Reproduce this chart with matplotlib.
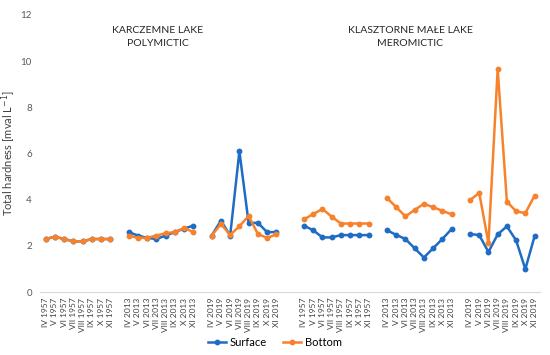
import numpy as np
import matplotlib
matplotlib.use('Agg')
import matplotlib.pyplot as plt

plt.rcParams['font.family'] = ['Lato', 'DejaVu Sans']

months = ["IV", "V", "VI", "VII", "VIII", "IX", "X", "XI"]
years = ["1957", "2013", "2019"]

# Karczemne Lake (polymictic)
k_surface = {
    "1957": [2.3, 2.4, 2.3, 2.2, 2.2, 2.3, 2.3, 2.3],
    "2013": [2.6, 2.45, 2.35, 2.3, 2.45, 2.6, 2.75, 2.88],
    "2019": [2.45, 3.1, 2.45, 6.1, 3.0, 3.0, 2.6, 2.6],
}
k_bottom = {
    "1957": [2.3, 2.4, 2.3, 2.2, 2.2, 2.3, 2.3, 2.3],
    "2013": [2.45, 2.35, 2.35, 2.45, 2.55, 2.6, 2.78, 2.6],
    "2019": [2.45, 2.95, 2.48, 2.85, 3.3, 2.52, 2.35, 2.5],
}
# Klasztorne Małe Lake (meromictic)
m_surface = {
    "1957": [2.88, 2.68, 2.37, 2.37, 2.47, 2.47, 2.47, 2.47],
    "2013": [2.68, 2.48, 2.3, 1.9, 1.5, 1.9, 2.3, 2.73],
    "2019": [2.52, 2.47, 1.74, 2.5, 2.85, 2.24, 1.0, 2.42],
}
m_bottom = {
    "1957": [3.15, 3.38, 3.6, 3.27, 2.97, 2.97, 2.97, 2.97],
    "2013": [4.08, 3.68, 3.28, 3.56, 3.82, 3.68, 3.52, 3.37],
    "2019": [3.98, 4.3, 2.12, 9.65, 3.92, 3.5, 3.42, 4.18],
}

# build category axis: groups separated by empty categories
gaps = [0, 1, 1, 2, 1, 1]
labels, surf, bot = [], [], []
gi = 0
for s_d, b_d in [(k_surface, k_bottom), (m_surface, m_bottom)]:
    for y in years:
        for _ in range(gaps[gi]):
            labels.append("")
            surf.append(np.nan)
            bot.append(np.nan)
        gi += 1
        labels += [f"{m} {y}" for m in months]
        surf += s_d[y]
        bot += b_d[y]

x = np.arange(len(labels))
blue = '#1f6cc4'
orange = '#f7822b'

fig = plt.figure(figsize=(5.5, 3.55), dpi=100)
ax = fig.add_axes([0.073, 0.177, 0.909, 0.781])

ax.plot(x, surf, color=blue, lw=1.8, marker='o', ms=3.2, label='Surface')
ax.plot(x, bot, color=orange, lw=1.8, marker='o', ms=3.2, label='Bottom')

ax.set_xlim(-0.6, len(labels) - 0.4)
ax.set_ylim(0, 12)
ax.set_yticks(range(0, 13, 2))
ax.set_xticks(x)
ax.set_xticklabels(labels, rotation=90, fontsize=6, color='#404040')
ax.tick_params(axis='both', length=0)
ax.tick_params(axis='y', labelsize=7, colors='#595959', pad=6)
ax.tick_params(axis='x', pad=4)
for sp in ['top', 'right', 'left']:
    ax.spines[sp].set_visible(False)
ax.spines['bottom'].set_color('#d9d9d9')

fig.text(0.016, 0.568, 'Total hardness [mval L$^{-1}$]', rotation=90,
         ha='center', va='center', fontsize=8, color='#404040')

ax.text(0.235, 0.92, 'KARCZEMNE LAKE\nPOLYMICTIC', transform=ax.transAxes,
        ha='center', va='center', fontsize=7.5, color='#262626', linespacing=1.5)
ax.text(0.74, 0.92, 'KLASZTORNE MAŁE LAKE\nMEROMICTIC', transform=ax.transAxes,
        ha='center', va='center', fontsize=7.5, color='#262626', linespacing=1.5)

fig.legend(loc='center', bbox_to_anchor=(0.5, 0.035), ncol=2, frameon=False,
           fontsize=8, handlelength=1.6, columnspacing=1.5, handletextpad=0.3)

fig.savefig('out.png', dpi=100)
